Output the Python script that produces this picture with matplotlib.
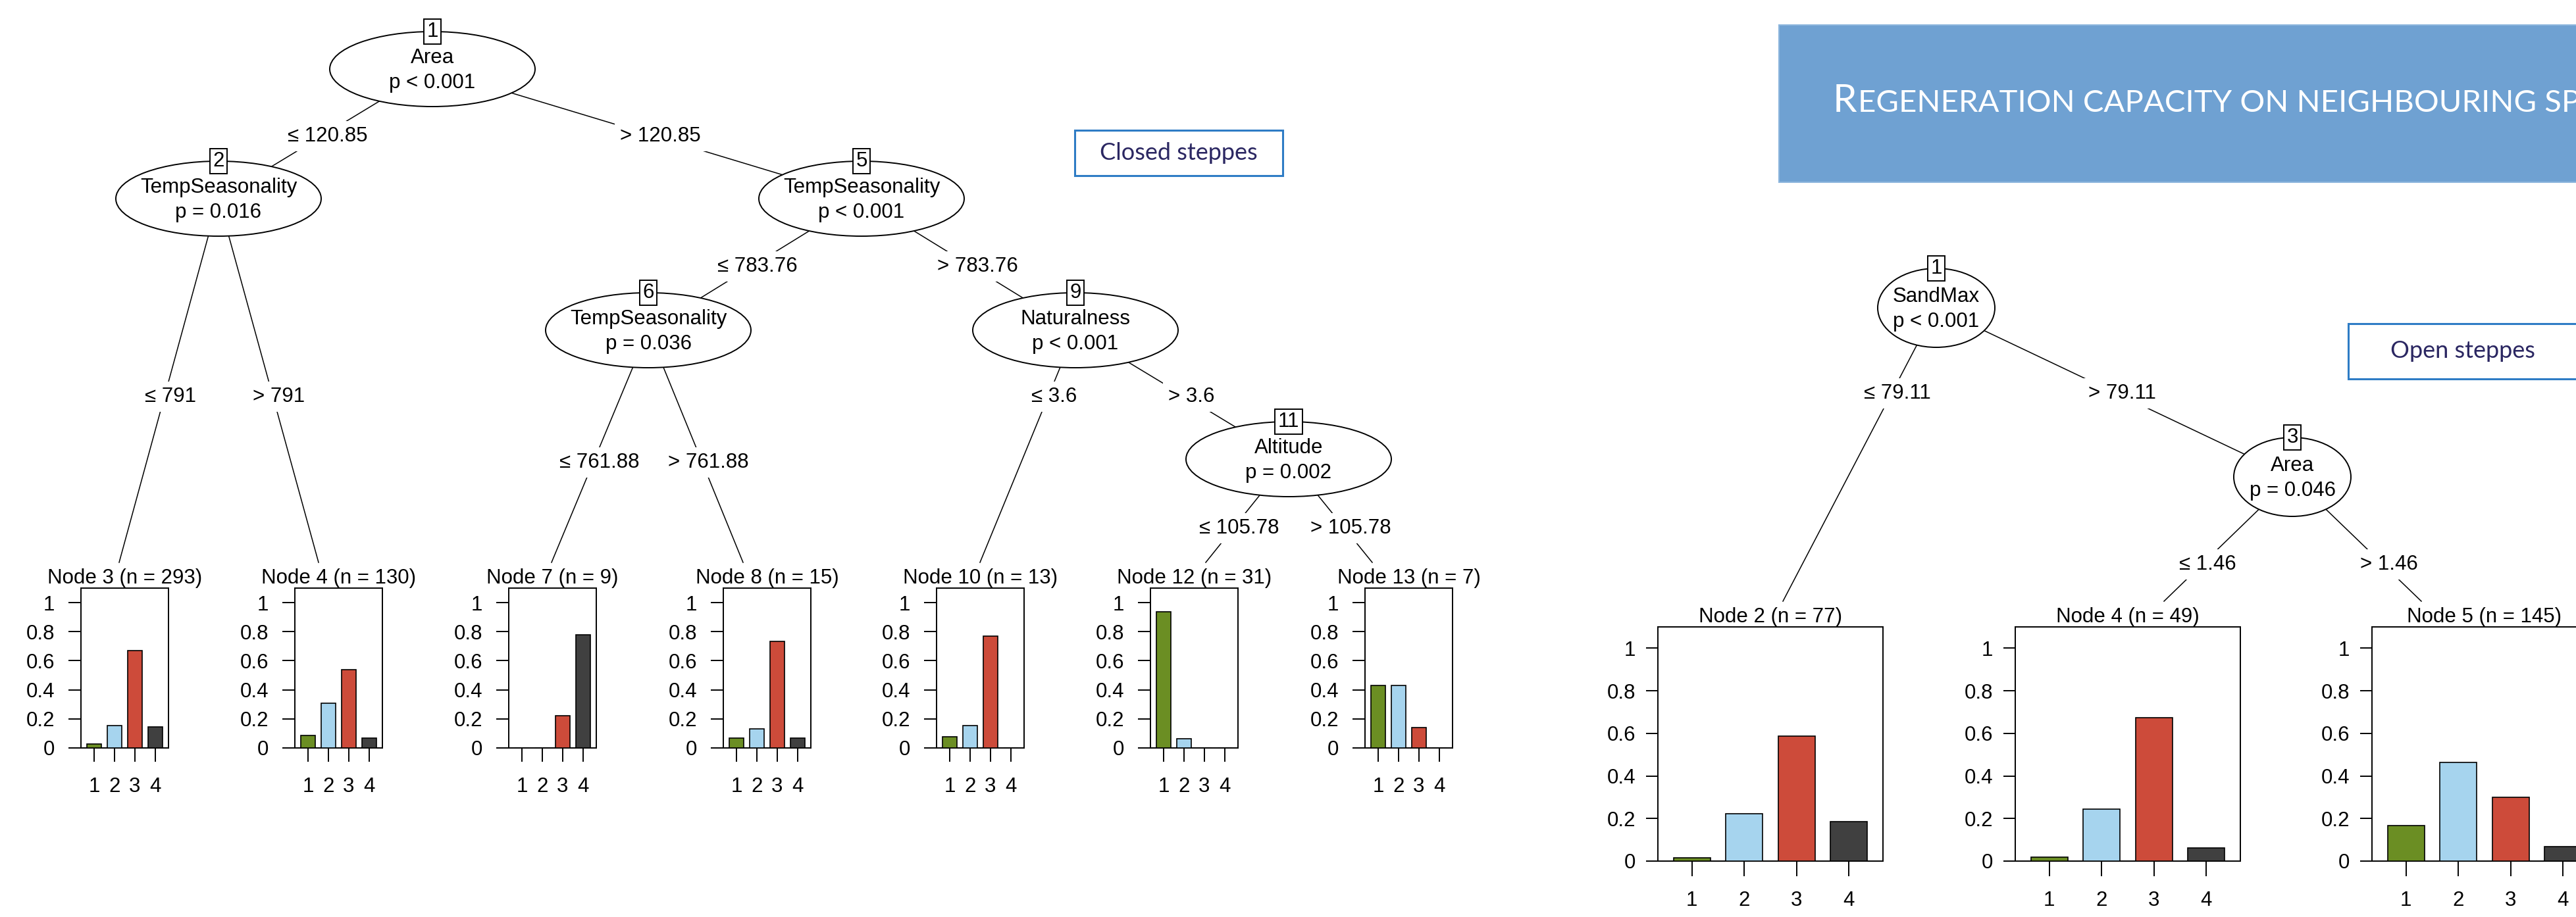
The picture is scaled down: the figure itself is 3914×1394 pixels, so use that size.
"""
Two conditional inference trees (closed / open steppes) with class bar plots
"""
# ###
# 1.Import packages
# ###
import matplotlib
matplotlib.use('Agg')
import matplotlib.pyplot as plt
from matplotlib.patches import Ellipse, Rectangle

# ###
# 2.Data
# ###
CLASSES       = [1, 2, 3, 4]
CLASS_LABELS  = ['1', '2', '3', '4']
Y_TICKS       = [0, 0.2, 0.4, 0.6, 0.8, 1]
Y_TICK_LABELS = ['0', '0.2', '0.4', '0.6', '0.8', '1']

# Closed steppes tree
CLOSED_INNER_IDS   = [1, 2, 5, 6, 9, 11]
CLOSED_INNER_VARS  = ['Area', 'TempSeasonality', 'TempSeasonality', 'TempSeasonality', 'Naturalness', 'Altitude']
CLOSED_INNER_PVALS = ['p < 0.001', 'p = 0.016', 'p < 0.001', 'p = 0.036', 'p < 0.001', 'p = 0.002']
CLOSED_EDGES       = [(1, 2), (1, 5), (2, 3), (2, 4), (5, 6), (5, 9), (6, 7), (6, 8), (9, 10), (9, 11), (11, 12), (11, 13)]
CLOSED_SPLITS      = ['\u2264 120.85', '> 120.85', '\u2264 791', '> 791', '\u2264 783.76', '> 783.76',
                      '\u2264 761.88', '> 761.88', '\u2264 3.6', '> 3.6', '\u2264 105.78', '> 105.78']
CLOSED_TERM_IDS    = [3, 4, 7, 8, 10, 12, 13]
CLOSED_TERM_N      = [293, 130, 9, 15, 13, 31, 7]
CLOSED_NODE3  = [0.026, 0.155, 0.670, 0.145]
CLOSED_NODE4  = [0.085, 0.308, 0.538, 0.069]
CLOSED_NODE7  = [0.0, 0.0, 0.222, 0.778]
CLOSED_NODE8  = [0.067, 0.133, 0.733, 0.067]
CLOSED_NODE10 = [0.077, 0.154, 0.769, 0.0]
CLOSED_NODE12 = [0.935, 0.065, 0.0, 0.0]
CLOSED_NODE13 = [0.429, 0.429, 0.142, 0.0]
CLOSED_PROPS  = [CLOSED_NODE3, CLOSED_NODE4, CLOSED_NODE7, CLOSED_NODE8, CLOSED_NODE10, CLOSED_NODE12, CLOSED_NODE13]

# Open steppes tree
OPEN_INNER_IDS   = [1, 3]
OPEN_INNER_VARS  = ['SandMax', 'Area']
OPEN_INNER_PVALS = ['p < 0.001', 'p = 0.046']
OPEN_EDGES       = [(1, 2), (1, 3), (3, 4), (3, 5)]
OPEN_SPLITS      = ['\u2264 79.11', '> 79.11', '\u2264 1.46', '> 1.46']
OPEN_TERM_IDS    = [2, 4, 5]
OPEN_TERM_N      = [77, 49, 145]
OPEN_NODE2 = [0.015, 0.222, 0.586, 0.184]
OPEN_NODE4 = [0.020, 0.244, 0.675, 0.062]
OPEN_NODE5 = [0.166, 0.463, 0.300, 0.068]
OPEN_PROPS = [OPEN_NODE2, OPEN_NODE4, OPEN_NODE5]

BANNER_TEXT  = 'Regeneration capacity on neighbouring spots'
CLOSED_TITLE = 'Closed steppes'
OPEN_TITLE   = 'Open steppes'

# ###
# 3.Layout and style
# ###
FIG_W, FIG_H, DPI = 3914, 1394, 100
FONT_SIZE    = 22.5
CLASS_COLORS = ['#6B8E23', '#A6D4EE', '#CD4B3A', '#404040']
BANNER_COLOR = '#6FA1D2'
BOX_EDGE     = '#2E7CC5'
BOX_TEXT     = '#2B2762'

CLOSED_LAYOUT = {
    'inner_xy':   {1: (657, 105), 2: (332, 302), 5: (1309, 302), 6: (985, 502), 9: (1634, 502), 11: (1958, 698)},
    'ellipse':    (312, 114),
    'label_y':    [207, 207, 603, 603, 405, 405, 703, 703, 603, 603, 803, 803],
    'term_left':  {3: 123, 4: 448, 7: 773, 8: 1099, 10: 1423, 12: 1748, 13: 2074},
    'term_end':   {3: 181, 4: 484, 7: 838, 8: 1129, 10: 1489, 12: 1832, 13: 2085},
    'line_end_y': 855, 'panel_top': 894, 'panel_bottom': 1137, 'panel_w': 133,
    'ytick_len': 13.7, 'ytick_pad': 15, 'xtick_len': 15, 'xtick_pad': 17,
}
OPEN_LAYOUT = {
    'inner_xy':   {1: (2942, 468), 3: (3483, 725)},
    'ellipse':    (178, 120),
    'label_y':    [598, 598, 858, 858],
    'term_left':  {2: 2519, 4: 3062, 5: 3604},
    'term_end':   {2: 2709, 4: 3288, 5: 3679},
    'line_end_y': 914, 'panel_top': 953, 'panel_bottom': 1309, 'panel_w': 342,
    'ytick_len': 13, 'ytick_pad': 11.5, 'xtick_len': 16.5, 'xtick_pad': 16,
}

plt.rcParams['font.family'] = ['Liberation Sans', 'DejaVu Sans']


# ###
# 4.Define functions
# ###
def draw_bar_panel(fig, left, top, bottom, width, props, title, lay):
    ax = fig.add_axes([left / FIG_W, 1 - bottom / FIG_H, width / FIG_W, (bottom - top) / FIG_H])
    ax.bar(CLASSES, props, width=0.7, color=CLASS_COLORS, edgecolor='black', linewidth=1.2, zorder=3)
    ax.set_xlim(0.35, 4.65)
    ax.set_ylim(0, 1.1)
    ax.set_yticks(Y_TICKS)
    ax.set_yticklabels(Y_TICK_LABELS)
    ax.set_xticks(CLASSES)
    ax.set_xticklabels(CLASS_LABELS)
    ax.tick_params(axis='y', direction='out', length=lay['ytick_len'], width=1.4, pad=lay['ytick_pad'], labelsize=FONT_SIZE)
    ax.tick_params(axis='x', direction='out', length=lay['xtick_len'], width=1.4, pad=lay['xtick_pad'], labelsize=FONT_SIZE)
    for s in ax.spines.values():
        s.set_linewidth(1.4)
    ax.set_title(title, fontsize=FONT_SIZE, pad=4)
    return ax


def draw_tree(fig, ax, lay, inner_ids, inner_vars, inner_pvals, edges, splits, term_ids, term_n, props):
    inner_xy = lay['inner_xy']

    # Edges and split labels
    for (p, c), lab, ly in zip(edges, splits, lay['label_y']):
        x0, y0 = inner_xy[p]
        if c in inner_xy:
            x1, y1 = inner_xy[c]
        else:
            x1, y1 = lay['term_end'][c], lay['line_end_y']
        ax.plot([x0, x1], [y0, y1], color='black', lw=1.1, zorder=1)
        lx = x0 + (x1 - x0) * (ly - y0) / (y1 - y0) + 9
        ax.text(lx, ly, lab, ha='center', va='center', fontsize=FONT_SIZE, zorder=2,
                bbox=dict(boxstyle='square,pad=0.25', fc='white', ec='none'))

    # Inner nodes
    ew, eh = lay['ellipse']
    for nid, var, pv in zip(inner_ids, inner_vars, inner_pvals):
        x, y = inner_xy[nid]
        ax.add_patch(Ellipse((x, y), ew, eh, fc='white', ec='black', lw=1.4, zorder=3))
        ax.text(x, y - 17, var, ha='center', va='center', fontsize=FONT_SIZE, zorder=4)
        ax.text(x, y + 21, pv, ha='center', va='center', fontsize=FONT_SIZE, zorder=4)
        ax.text(x, y - eh / 2, str(nid), ha='center', va='center', fontsize=FONT_SIZE, zorder=5,
                bbox=dict(boxstyle='square,pad=0.14', fc='white', ec='black', lw=1.4))

    # Terminal nodes
    for nid, n, pr in zip(term_ids, term_n, props):
        title = 'Node %d (n = %d)' % (nid, n)
        draw_bar_panel(fig, lay['term_left'][nid], lay['panel_top'], lay['panel_bottom'],
                       lay['panel_w'], pr, title, lay)


def draw_label_box(ax, x0, y0, x1, y1, text_x, text):
    ax.add_patch(Rectangle((x0, y0), x1 - x0, y1 - y0, fc='white', ec=BOX_EDGE, lw=2.2, zorder=2))
    ax.text(text_x, (y0 + y1) / 2, text, ha='center', va='center', fontsize=26, color=BOX_TEXT,
            family=['Lato', 'DejaVu Sans'], zorder=3)


def main_function():
    fig = plt.figure(figsize=(FIG_W / DPI, FIG_H / DPI), dpi=DPI, facecolor='white')
    ax = fig.add_axes([0, 0, 1, 1])
    ax.set_xlim(0, FIG_W)
    ax.set_ylim(FIG_H, 0)
    ax.axis('off')

    draw_tree(fig, ax, CLOSED_LAYOUT, CLOSED_INNER_IDS, CLOSED_INNER_VARS, CLOSED_INNER_PVALS,
              CLOSED_EDGES, CLOSED_SPLITS, CLOSED_TERM_IDS, CLOSED_TERM_N, CLOSED_PROPS)
    draw_tree(fig, ax, OPEN_LAYOUT, OPEN_INNER_IDS, OPEN_INNER_VARS, OPEN_INNER_PVALS,
              OPEN_EDGES, OPEN_SPLITS, OPEN_TERM_IDS, OPEN_TERM_N, OPEN_PROPS)

    # Text boxes
    draw_label_box(ax, 1633, 198, 1949, 267, 1791, CLOSED_TITLE)
    draw_label_box(ax, 3568, 492, 3950, 576, 3742, OPEN_TITLE)

    # Banner with small caps title (cut at the right edge as on the slide)
    ax.add_patch(Rectangle((2703, 38), 1300, 239, fc=BANNER_COLOR, ec='#8DB6DD', lw=1.5, zorder=2))
    t1 = ax.text(2785, 170, BANNER_TEXT[0].upper(), ha='left', va='baseline', fontsize=42,
                 color='white', family=['Lato', 'DejaVu Sans'], zorder=3)
    fig.canvas.draw()
    bb = t1.get_window_extent()
    x_next = ax.transData.inverted().transform((bb.x1, bb.y0))[0]
    ax.text(x_next + 1, 170, BANNER_TEXT[1:].upper(), ha='left', va='baseline', fontsize=34,
            color='white', family=['Lato', 'DejaVu Sans'], zorder=3)

    fig.savefig('out.png', dpi=DPI, facecolor='white')
    plt.close(fig)


# ###
# 5.Run main function
# ###
if __name__ == '__main__':
    main_function()
